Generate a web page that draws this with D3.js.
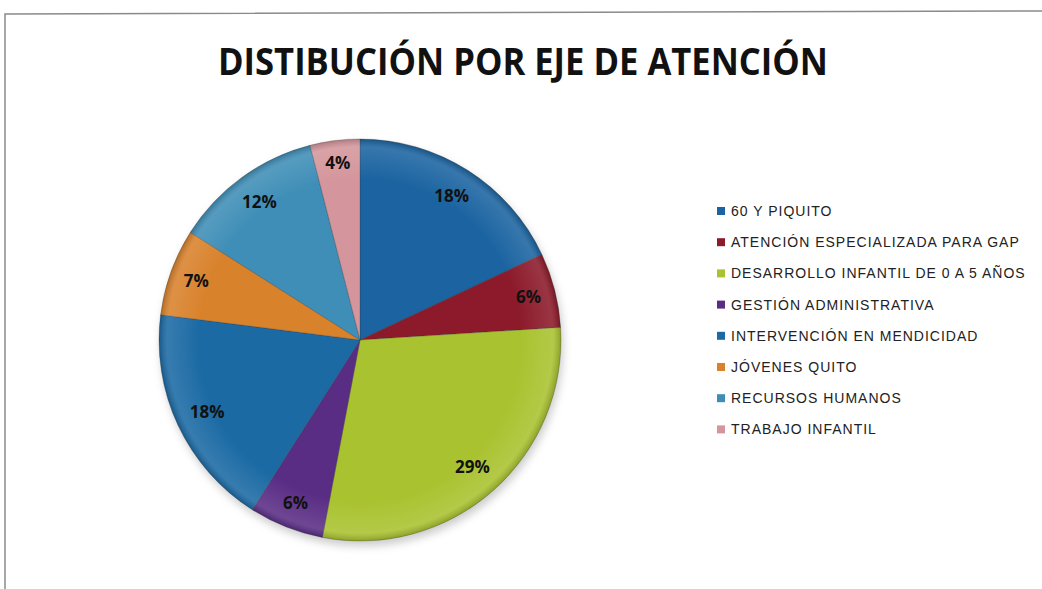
<!DOCTYPE html>
<html>
<head>
<meta charset="utf-8">
<script src="https://cdn.jsdelivr.net/npm/d3@7"></script>
<style>
  body { margin: 0; background: #fff; }
  svg { display: block; }
</style>
</head>
<body>
<div id="chart"></div>
<script>
// Datos
var categories = ['60 Y PIQUITO', 'ATENCIÓN ESPECIALIZADA PARA GAP', 'DESARROLLO INFANTIL DE 0 A 5 AÑOS',
  'GESTIÓN ADMINISTRATIVA', 'INTERVENCIÓN EN MENDICIDAD', 'JÓVENES QUITO', 'RECURSOS HUMANOS', 'TRABAJO INFANTIL']
var values = [18, 6, 29, 6, 18, 7, 12, 4]
var colors = ['#1b64a1', '#8c1a2a', '#a9c22f', '#5a2d85', '#1b6aa4', '#d9822c', '#3f8eb7', '#d4969c']
var title = 'DISTIBUCIÓN POR EJE DE ATENCIÓN'

var width = 1042, height = 589
var cx = 360, cy = 340, radius = 201

var svg = d3.select('#chart').append('svg')
  .attr('width', width)
  .attr('height', height)

// marco
svg.append('path')
  .attr('d', 'M5,589 L5,14 L1042,11')
  .attr('fill', 'none')
  .attr('stroke', '#8a8a8a')
  .attr('stroke-width', 1.5)

svg.append('text')
  .attr('x', 523)
  .attr('y', 75)
  .attr('text-anchor', 'middle')
  .attr('font-family', 'Open Sans, sans-serif')
  .attr('font-weight', 'bold')
  .attr('font-size', 38)
  .attr('fill', '#111')
  .attr('textLength', 610)
  .attr('lengthAdjust', 'spacingAndGlyphs')
  .text(title)

var defs = svg.append('defs')
var shade = defs.append('radialGradient').attr('id', 'shade')
shade.append('stop').attr('offset', '80%').attr('stop-color', '#fff').attr('stop-opacity', 0)
shade.append('stop').attr('offset', '96%').attr('stop-color', '#fff').attr('stop-opacity', 0.12)
shade.append('stop').attr('offset', '100%').attr('stop-color', '#000').attr('stop-opacity', 0.18)
var shadow = defs.append('filter').attr('id', 'shadow').attr('x', '-20%').attr('y', '-20%').attr('width', '140%').attr('height', '140%')
shadow.append('feGaussianBlur').attr('stdDeviation', 4)

var pie = d3.pie().sort(null).value(function(d) { return d })
var arcs = pie(values)
var arc = d3.arc().innerRadius(0).outerRadius(radius)

var g = svg.append('g').attr('transform', 'translate(' + cx + ',' + cy + ')')

g.append('circle')
  .attr('cx', 2).attr('cy', 5).attr('r', radius)
  .attr('fill', '#999')
  .attr('opacity', 0.5)
  .attr('filter', 'url(#shadow)')

g.selectAll('path.slice')
  .data(arcs)
  .enter()
  .append('path')
  .attr('class', 'slice')
  .attr('d', arc)
  .attr('fill', function(d, i) { return colors[i] })
  .attr('stroke', '#333')
  .attr('stroke-opacity', 0.35)
  .attr('stroke-width', 0.8)

g.append('circle')
  .attr('r', radius)
  .attr('fill', 'url(#shade)')

// etiquetas dentro, cerca del borde
g.selectAll('text.lab')
  .data(arcs)
  .enter()
  .append('text')
  .attr('class', 'lab')
  .attr('font-family', 'Open Sans, sans-serif')
  .attr('font-weight', 'bold')
  .attr('font-size', 17)
  .attr('fill', '#111')
  .attr('text-anchor', 'middle')
  .attr('dy', '0.35em')
  .text(function(d) { return d.value + '%' })
  .each(function(d) {
    var a = (d.startAngle + d.endAngle) / 2
    var ux = Math.sin(a), uy = -Math.cos(a)
    var w = this.getComputedTextLength() / 2, h = 9
    var target = radius * 0.94, dist = 0
    for (var t = 0; t < radius; t += 1) {
      var fx = t * ux + (ux >= 0 ? w : -w)
      var fy = t * uy + (uy >= 0 ? h : -h)
      if (Math.sqrt(fx * fx + fy * fy) > target) break
      dist = t
    }
    d3.select(this).attr('x', dist * ux).attr('y', dist * uy)
  })

// leyenda
var legend = svg.append('g').attr('transform', 'translate(717,211)')
var row = legend.selectAll('g')
  .data(categories)
  .enter()
  .append('g')
  .attr('transform', function(d, i) { return 'translate(0,' + (i * 31.2) + ')' })

row.append('rect')
  .attr('x', 0).attr('y', -4)
  .attr('width', 8).attr('height', 8)
  .attr('fill', function(d, i) { return colors[i] })

row.append('text')
  .attr('x', 14)
  .attr('dy', '0.36em')
  .attr('font-family', 'Liberation Sans, Arial, sans-serif')
  .attr('font-size', 14)
  .attr('letter-spacing', 1)
  .attr('fill', '#222')
  .text(function(d) { return d })
</script>
</body>
</html>
